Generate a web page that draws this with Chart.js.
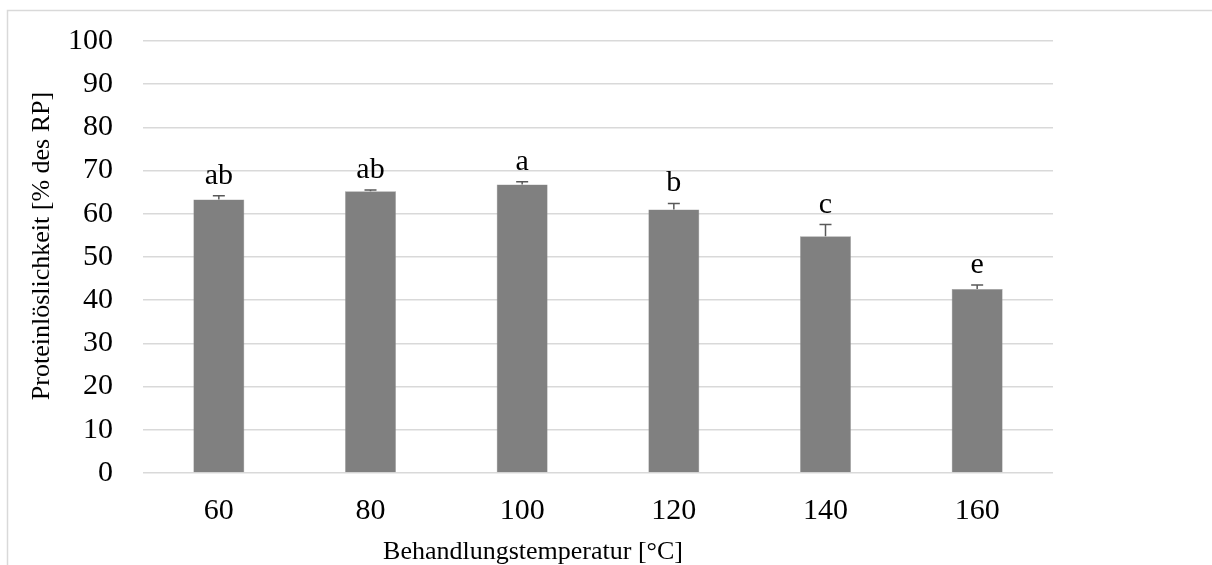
<!DOCTYPE html>
<html>
<head>
<meta charset="utf-8">
<script src="https://cdn.jsdelivr.net/npm/chart.js@4/dist/chart.umd.min.js"></script>
<style>
  html, body { margin: 0; padding: 0; background: #fff; }
  #wrap { width: 1212px; height: 565px; position: relative; }
</style>
</head>
<body>
<div id="wrap"><canvas id="myChart" width="1212" height="565"></canvas></div>
<script>
const temperatures = ['60', '80', '100', '120', '140', '160'];
const solubility = [63.3, 65.2, 66.8, 61.0, 54.8, 42.6];
const errorUp = [0.9, 0.3, 0.6, 1.4, 2.7, 0.9];
const letters = ['ab', 'ab', 'a', 'b', 'c', 'e'];
const yTicks = [0, 10, 20, 30, 40, 50, 60, 70, 80, 90, 100];
const xTitle = 'Behandlungstemperatur [°C]';
const yTitle = 'Proteinlöslichkeit [% des RP]';

const serif = '"Liberation Serif", "Times New Roman", serif';

// frame around the whole figure
const framePlugin = {
    id: 'frame',
    beforeDraw(chart) {
        const ctx = chart.ctx;
        ctx.save();
        ctx.fillStyle = '#fff';
        ctx.fillRect(0, 0, chart.width, chart.height);
        ctx.strokeStyle = '#d9d9d9';
        ctx.lineWidth = 1.5;
        ctx.strokeRect(7.5, 10.5, chart.width + 20, chart.height + 20);
        ctx.restore();
    }
};

// axis titles, placed like the office chart does (not centred on the plot)
const titlePlugin = {
    id: 'axisTitles',
    afterDraw(chart) {
        const ctx = chart.ctx;
        ctx.save();
        ctx.fillStyle = '#000';
        ctx.font = '26px ' + serif;
        ctx.textAlign = 'center';
        ctx.textBaseline = 'middle';
        ctx.fillText(xTitle, 533, 552);
        ctx.translate(42, 246);
        ctx.rotate(-Math.PI / 2);
        ctx.fillText(yTitle, 0, 0);
        ctx.restore();
    }
};

// positive error bars and significance letters
const errorPlugin = {
    id: 'errorBars',
    afterDatasetsDraw(chart) {
        const ctx = chart.ctx;
        const meta = chart.getDatasetMeta(0);
        const y = chart.scales.y;
        ctx.save();
        meta.data.forEach((bar, i) => {
            const top = y.getPixelForValue(solubility[i] + errorUp[i]);
            ctx.strokeStyle = '#595959';
            ctx.lineWidth = 1.5;
            ctx.beginPath();
            ctx.moveTo(bar.x, bar.y);
            ctx.lineTo(bar.x, top);
            ctx.moveTo(bar.x - 6, top);
            ctx.lineTo(bar.x + 6, top);
            ctx.stroke();

            ctx.fillStyle = '#000';
            ctx.font = '30px ' + serif;
            ctx.textAlign = 'center';
            ctx.textBaseline = 'alphabetic';
            ctx.fillText(letters[i], bar.x, top - 12);
        });
        ctx.restore();
    }
};

const data = {
    labels: temperatures,
    datasets: [
        {
            data: solubility,
            backgroundColor: '#808080',
            borderColor: '#9a9a9a',
            borderWidth: 0.5,
            categoryPercentage: 1.0,
            barPercentage: 0.336
        }
    ]
};

const config = {
    type: 'bar',
    data: data,
    options: {
        responsive: false,
        animation: false,
        layout: {
            padding: { top: 0, right: 159, bottom: 24, left: 38 }
        },
        plugins: {
            legend: { display: false },
            tooltip: { enabled: false }
        },
        scales: {
            x: {
                grid: { display: false },
                border: { display: false },
                ticks: {
                    color: '#000',
                    font: { family: serif, size: 30 },
                    padding: 12
                }
            },
            y: {
                min: 0,
                max: 100,
                afterBuildTicks(axis) {
                    axis.ticks = yTicks.map(v => ({ value: v }));
                },
                afterFit(axis) {
                    // room above the 100 line
                    axis.paddingTop = 41;
                },
                grid: {
                    color: '#d9d9d9',
                    lineWidth: 1.5,
                    drawTicks: false
                },
                border: { display: false },
                ticks: {
                    color: '#000',
                    font: { family: serif, size: 30 },
                    padding: 30
                }
            }
        }
    },
    plugins: [framePlugin, errorPlugin, titlePlugin]
};

new Chart(document.getElementById('myChart'), config);
</script>
</body>
</html>
